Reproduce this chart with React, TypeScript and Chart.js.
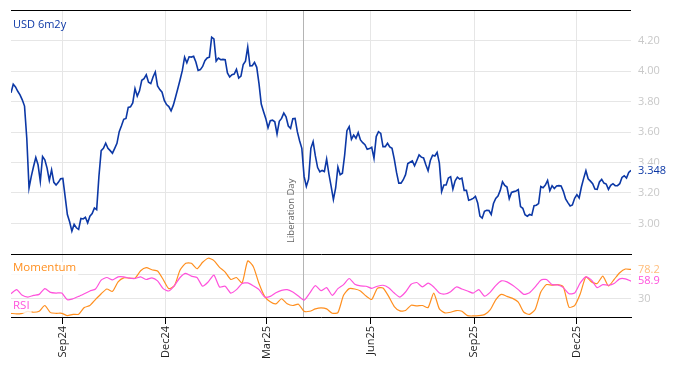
import React, { useEffect, useRef } from 'react';
import { Chart, registerables } from 'chart.js';

Chart.register(...registerables);

// ---------- data ----------
const START_DATE = '2024-07-17';
const END_DAY = 550;
const seriesTitle = 'USD 6m2y';

const PRICE_STEP_DAYS = 2;
const price6m2y = [
  3.857, 3.913, 3.896, 3.867, 3.843, 3.811, 3.770, 3.559, 3.233, 3.309,
  3.374, 3.433, 3.385, 3.276, 3.439, 3.417, 3.363, 3.283, 3.352, 3.270,
  3.252, 3.270, 3.293, 3.296, 3.178, 3.059, 3.011, 2.950, 2.994, 2.972,
  2.961, 3.033, 3.030, 3.041, 3.004, 3.048, 3.065, 3.102, 3.091, 3.309,
  3.478, 3.493, 3.526, 3.493, 3.478, 3.461, 3.493, 3.526, 3.602, 3.641,
  3.683, 3.689, 3.761, 3.765, 3.791, 3.885, 3.835, 3.870, 3.939, 3.950,
  3.976, 3.926, 3.917, 3.961, 3.994, 3.902, 3.878, 3.861, 3.807, 3.780,
  3.767, 3.739, 3.776, 3.830, 3.885, 3.943, 4.004, 4.091, 4.054, 4.093,
  4.091, 4.096, 4.059, 4.004, 4.009, 4.030, 4.067, 4.085, 4.091, 4.222,
  4.211, 4.065, 4.085, 4.074, 4.076, 4.074, 3.987, 3.961, 3.976, 3.980,
  4.011, 3.954, 3.967, 4.043, 4.065, 4.157, 4.033, 4.035, 4.057, 4.024,
  3.917, 3.783, 3.735, 3.689, 3.628, 3.674, 3.678, 3.667, 3.587, 3.670,
  3.689, 3.724, 3.700, 3.639, 3.624, 3.687, 3.689, 3.602, 3.543, 3.493,
  3.309, 3.243, 3.291, 3.493, 3.537, 3.443, 3.367, 3.339, 3.348, 3.341,
  3.422, 3.326, 3.243, 3.157, 3.233, 3.370, 3.320, 3.330, 3.450, 3.609,
  3.635, 3.552, 3.580, 3.559, 3.596, 3.548, 3.530, 3.517, 3.487, 3.491,
  3.500, 3.428, 3.570, 3.602, 3.591, 3.504, 3.504, 3.526, 3.502, 3.493,
  3.422, 3.335, 3.265, 3.265, 3.287, 3.320, 3.393, 3.402, 3.411, 3.378,
  3.413, 3.450, 3.435, 3.430, 3.385, 3.346, 3.413, 3.448, 3.443, 3.467,
  3.396, 3.209, 3.252, 3.252, 3.298, 3.307, 3.226, 3.280, 3.304, 3.291,
  3.298, 3.217, 3.217, 3.152, 3.157, 3.165, 3.178, 3.135, 3.048, 3.035,
  3.080, 3.087, 3.085, 3.059, 3.131, 3.165, 3.180, 3.217, 3.274, 3.250,
  3.239, 3.163, 3.204, 3.209, 3.213, 3.222, 3.111, 3.100, 3.057, 3.048,
  3.059, 3.054, 3.117, 3.120, 3.131, 3.243, 3.235, 3.252, 3.283, 3.215,
  3.248, 3.230, 3.246, 3.248, 3.246, 3.211, 3.161, 3.137, 3.115, 3.122,
  3.165, 3.189, 3.167, 3.239, 3.296, 3.346, 3.293, 3.278, 3.261, 3.226,
  3.224, 3.272, 3.289, 3.265, 3.259, 3.224, 3.250, 3.261, 3.248, 3.248,
  3.261, 3.302, 3.313, 3.298, 3.335, 3.348,
];

const INDICATOR_STEP_DAYS = 5;
const momentum = [
  6.1, 5, 6.1, 9.4, 7.8, 9.4, 18.9, 7.2, 6.1, 6.1,
  2.2, 4.4, 4.4, 15.6, 18.9, 28.9, 38.3, 46.1, 42.2, 57.8,
  64.4, 63.9, 63.9, 76.1, 81.1, 77.8, 75.6, 61.7, 46.7, 51.7,
  77.2, 88.3, 88.3, 79.4, 90, 96.7, 92.8, 81.7, 73.9, 61.7,
  65, 56.1, 92.2, 82.8, 55, 33.9, 25, 21.7, 30, 21.7,
  18.9, 21.1, 9.4, 9.4, 13.3, 15, 13.3, 6.1, 7.2, 35.6,
  46.7, 46.1, 42.8, 34.4, 28.9, 47.2, 47.8, 33.9, 17.2, 10,
  10.6, 19.4, 18.3, 18.9, 15.6, 39.4, 13.3, 6.7, 7.8, 10.6,
  9.4, 2.2, 1.7, 2.2, 3.9, 11.7, 28.3, 37.2, 33.9, 30.6,
  24.4, 7.8, 4.4, 12.2, 41.1, 53.3, 52.2, 53.3, 49.4, 16.1,
  18.9, 38.3, 66.1, 57.8, 55, 67.2, 51.1, 61.7, 72.8, 78.9, 78.2,
];
const rsi = [
  38.3, 45, 35.6, 32.8, 35.6, 37.2, 46.7, 40.6, 39.4, 39.4,
  28.3, 30, 33.9, 38.3, 42.8, 46.1, 60.6, 65, 61.1, 66.1,
  66.1, 63.9, 63.3, 66.1, 61.7, 64.4, 59.4, 46.7, 42.8, 51.7,
  65, 71.7, 67.2, 65, 50.6, 57.8, 68.9, 49.4, 50.6, 39.4,
  45, 55, 56.1, 51.1, 45, 32.8, 33.9, 40, 43.9, 45,
  41.1, 34.4, 27.8, 39.4, 51.7, 43.3, 48.3, 35.6, 46.7, 53.3,
  63.3, 53.9, 51.1, 50.6, 47.2, 50.6, 52.2, 48.3, 39.4, 32.8,
  41.1, 53.9, 56.7, 49.4, 55.6, 49.4, 39.4, 37.8, 41.7, 49.4,
  46.1, 42.8, 39.4, 45, 34.4, 40.6, 51.7, 59.4, 57.8, 52.2,
  45, 37.2, 40, 49.4, 60.6, 61.7, 53.3, 52.8, 48.3, 38.3,
  39.4, 56.1, 66.1, 60.6, 48.3, 53.3, 52.2, 55, 62.8, 62.8, 58.9,
];

const quarterTickDates = ['2024-09-01', '2024-12-01', '2025-03-01', '2025-06-01', '2025-09-01', '2025-12-01'];
const quarterTickLabels = ['Sep24', 'Dec24', 'Mar25', 'Jun25', 'Sep25', 'Dec25'];
const priceTicks = [3.0, 3.2, 3.4, 3.6, 3.8, 4.0, 4.2];
const indicatorTicks = [30, 70];
const indicatorTickLabels = ['30', ''];
const eventDate = '2025-04-02';
const eventLabel = 'Liberation Day';

// ---------- styling ----------
const FONT = '"Open Sans", "DejaVu Sans", sans-serif';
const BLUE = '#0c38a6';
const ORANGE = '#ff8f1f';
const PINK = '#ff52dc';
const GRID = '#e6e6e6';
const TICK_TEXT = '#c8c8c8';

const dayOf = (iso: string) => Math.round((Date.parse(iso) - Date.parse(START_DATE)) / 86400000);
const tickDays = quarterTickDates.map(dayOf);
const eventDay = dayOf(eventDate);

function drawTag(ctx: CanvasRenderingContext2D, text: string, x: number, y: number, color: string, font: string, bg: string) {
  ctx.save();
  ctx.font = font;
  const w = ctx.measureText(text).width;
  ctx.fillStyle = bg;
  ctx.fillRect(x - 2, y - 6, w + 4, 13);
  ctx.fillStyle = color;
  ctx.textBaseline = 'middle';
  ctx.textAlign = 'left';
  ctx.fillText(text, x, y);
  ctx.restore();
}

function drawEventLine(chart: any) {
  const { ctx, chartArea: a, scales } = chart;
  const x = Math.round(scales.x.getPixelForValue(eventDay)) + 0.5;
  ctx.save();
  ctx.strokeStyle = '#b4b4b4';
  ctx.lineWidth = 1;
  ctx.beginPath();
  ctx.moveTo(x, a.top);
  ctx.lineTo(x, a.bottom);
  ctx.stroke();
  ctx.restore();
}

const topOverlay = {
  id: 'topOverlay',
  beforeDatasetsDraw(chart: any) {
    const { ctx, chartArea: a, scales } = chart;
    drawEventLine(chart);
    const x = scales.x.getPixelForValue(eventDay);
    ctx.save();
    ctx.translate(x - 12, a.bottom - 11);
    ctx.rotate(-Math.PI / 2);
    ctx.font = `9.5px ${FONT}`;
    ctx.fillStyle = '#666';
    ctx.textAlign = 'left';
    ctx.textBaseline = 'middle';
    ctx.fillText(eventLabel, 0, 0);
    ctx.restore();
  },
  afterDraw(chart: any) {
    const { ctx, chartArea: a, scales } = chart;
    ctx.save();
    ctx.strokeStyle = '#000';
    ctx.lineWidth = 1;
    ctx.beginPath();
    ctx.moveTo(a.left, a.top + 0.5);
    ctx.lineTo(a.right, a.top + 0.5);
    ctx.stroke();
    ctx.restore();

    ctx.save();
    ctx.font = `11px ${FONT}`;
    ctx.fillStyle = BLUE;
    ctx.textBaseline = 'middle';
    ctx.fillText(seriesTitle, a.left + 2, a.top + 15);
    ctx.restore();

    const last = price6m2y[price6m2y.length - 1];
    drawTag(ctx, last.toFixed(3), a.right + 7, scales.y.getPixelForValue(last), BLUE, `11px ${FONT}`, '#fff');
  },
};

const bottomOverlay = {
  id: 'bottomOverlay',
  beforeDatasetsDraw(chart: any) {
    drawEventLine(chart);
  },
  afterDraw(chart: any) {
    const { ctx, chartArea: a, scales } = chart;
    drawTag(ctx, 'Momentum', a.left + 2, a.top + 13, ORANGE, `11.5px ${FONT}`, 'rgba(255,255,255,0.8)');
    drawTag(ctx, 'RSI', a.left + 2, a.top + 51, PINK, `11.5px ${FONT}`, 'rgba(255,255,255,0.8)');
    const lm = momentum[momentum.length - 1];
    const lr = rsi[rsi.length - 1];
    drawTag(ctx, lm.toFixed(1), a.right + 7, scales.y.getPixelForValue(lm), 'rgba(255,143,31,0.6)', `11px ${FONT}`, '#fff');
    drawTag(ctx, lr.toFixed(1), a.right + 7, scales.y.getPixelForValue(lr), PINK, `11px ${FONT}`, '#fff');
  },
};

const xTicks = (s: any) => {
  s.ticks = tickDays.map((v) => ({ value: v }));
};

const noPad = (s: any) => {
  s.paddingTop = 0;
  s.paddingBottom = 0;
};

export default function App() {
  const topRef = useRef<HTMLCanvasElement>(null);
  const botRef = useRef<HTMLCanvasElement>(null);

  useEffect(() => {
    const top = new Chart(topRef.current!, {
      type: 'line',
      data: {
        datasets: [
          {
            data: price6m2y.map((v, i) => ({ x: i * PRICE_STEP_DAYS, y: v })),
            borderColor: BLUE,
            borderWidth: 1.6,
            pointRadius: 0,
            tension: 0,
          },
        ],
      },
      options: {
        animation: false,
        responsive: false,
        maintainAspectRatio: false,
        layout: { padding: { left: 11, top: 10, right: 0, bottom: 0 } },
        plugins: { legend: { display: false }, tooltip: { enabled: false } },
        scales: {
          x: {
            type: 'linear',
            min: 0,
            max: END_DAY,
            afterBuildTicks: xTicks,
            ticks: { display: false },
            grid: { color: GRID, tickColor: '#000', tickLength: 5, drawTicks: true },
            border: { display: true, color: '#000', width: 1 },
            afterFit: (s: any) => {
              s.height = 6;
              s.paddingLeft = 0;
              s.paddingRight = 0;
            },
          },
          y: {
            position: 'right',
            min: 2.8,
            max: 4.4,
            afterBuildTicks: (s: any) => {
              s.ticks = priceTicks.map((v) => ({ value: v }));
            },
            ticks: {
              color: TICK_TEXT,
              padding: 7,
              font: { size: 11, family: FONT },
              callback: (v: any) => Number(v).toFixed(2),
            },
            grid: { color: GRID, drawTicks: false },
            border: { display: false },
            afterFit: (s: any) => {
              s.width = 43;
              noPad(s);
            },
          },
        },
      } as any,
      plugins: [topOverlay],
    });

    const bottom = new Chart(botRef.current!, {
      type: 'line',
      data: {
        datasets: [
          {
            data: rsi.map((v, i) => ({ x: i * INDICATOR_STEP_DAYS, y: v })),
            borderColor: PINK,
            borderWidth: 1.2,
            pointRadius: 0,
            tension: 0.2,
          },
          {
            data: momentum.map((v, i) => ({ x: i * INDICATOR_STEP_DAYS, y: v })),
            borderColor: ORANGE,
            borderWidth: 1.2,
            pointRadius: 0,
            tension: 0.2,
          },
        ],
      },
      options: {
        animation: false,
        responsive: false,
        maintainAspectRatio: false,
        layout: { padding: { left: 11, top: 5, right: 0, bottom: 0 } },
        plugins: { legend: { display: false }, tooltip: { enabled: false } },
        scales: {
          x: {
            type: 'linear',
            min: 0,
            max: END_DAY,
            afterBuildTicks: xTicks,
            ticks: {
              color: '#222',
              font: { size: 11, family: FONT },
              minRotation: 90,
              maxRotation: 90,
              padding: 2,
              autoSkip: false,
              callback: (v: any) => {
                const k = tickDays.indexOf(Math.round(Number(v)));
                return k >= 0 ? quarterTickLabels[k] : '';
              },
            },
            grid: { color: GRID, tickColor: '#000', tickLength: 7, drawTicks: true },
            border: { display: true, color: '#000', width: 1 },
            afterFit: (s: any) => {
              s.height = 49;
              s.paddingLeft = 0;
              s.paddingRight = 0;
            },
          },
          y: {
            position: 'right',
            min: 0,
            max: 102,
            afterBuildTicks: (s: any) => {
              s.ticks = indicatorTicks.map((v) => ({ value: v }));
            },
            ticks: {
              color: TICK_TEXT,
              padding: 7,
              font: { size: 11, family: FONT },
              callback: (v: any) => {
                const k = indicatorTicks.indexOf(Number(v));
                return k >= 0 ? indicatorTickLabels[k] : '';
              },
            },
            grid: { color: GRID, drawTicks: false },
            border: { display: false },
            afterFit: (s: any) => {
              s.width = 43;
              noPad(s);
            },
          },
        },
      } as any,
      plugins: [bottomOverlay],
    });

    return () => {
      top.destroy();
      bottom.destroy();
    };
  }, []);

  return (
    <div style={{ position: 'fixed', left: 0, top: 0, width: 674, height: 366, background: '#fff' }}>
      <canvas ref={topRef} width={674} height={260} style={{ position: 'absolute', left: 0, top: 0 }} />
      <canvas ref={botRef} width={674} height={116} style={{ position: 'absolute', left: 0, top: 250 }} />
    </div>
  );
}
